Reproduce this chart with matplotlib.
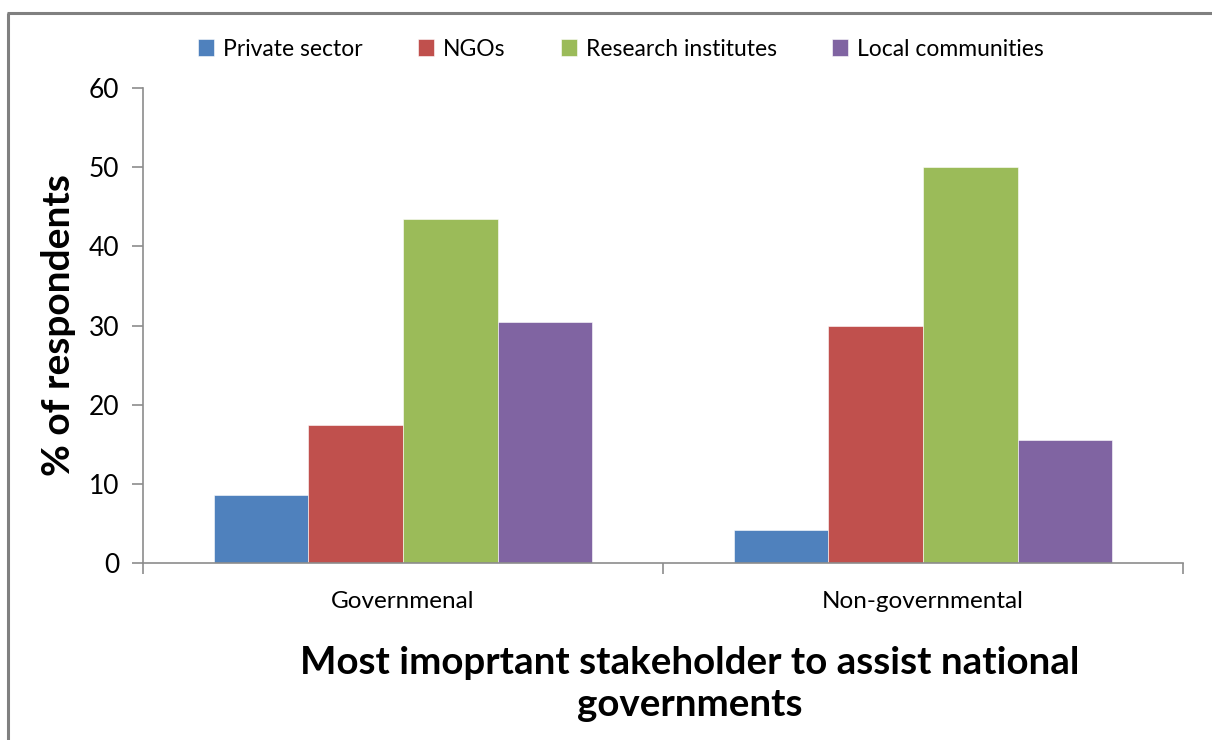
import numpy as np
import matplotlib
matplotlib.use("Agg")
import matplotlib.pyplot as plt
from matplotlib.lines import Line2D

plt.rcParams['font.family'] = ['Lato', 'DejaVu Sans']

# Survey results: % of respondents naming each stakeholder
groups = ["Governmenal", "Non-governmental"]
stakeholders = ["Private sector", "NGOs", "Research institutes", "Local communities"]
private_sector = [8.6, 4.2]
ngos = [17.4, 30.0]
research_institutes = [43.5, 50.0]
local_communities = [30.4, 15.6]
colors = ["#4F81BD", "#C0504D", "#9BBB59", "#8064A2"]

series = [private_sector, ngos, research_institutes, local_communities]

fig = plt.figure(figsize=(12.12, 7.40), dpi=100)
ax = fig.add_axes([143 / 1212, 1 - 563 / 740, (1183 - 143) / 1212, (563 - 88) / 740])

x = np.arange(len(groups))
width = 0.182
for i, (vals, name, c) in enumerate(zip(series, stakeholders, colors)):
    offset = (i - 1.5) * width
    ax.bar(x + offset, vals, width, color=c, label=name,
           edgecolor="white", linewidth=0.4)

ax.set_xlim(-0.5, 1.5)
ax.set_ylim(0, 60)
ax.set_yticks(range(0, 61, 10))
ax.set_xticks(x)
ax.set_xticklabels(groups, fontsize=17.5)
ax.tick_params(axis="x", length=0, pad=20)
ax.set_xticks([-0.5, 0.5, 1.5], minor=True)
ax.tick_params(axis="x", which="minor", length=8, color="#8c8c8c", width=1.2)
ax.tick_params(axis="y", length=8, color="#8c8c8c", width=1.2, labelsize=19, pad=9)

for side in ["top", "right"]:
    ax.spines[side].set_visible(False)
for side in ["left", "bottom"]:
    ax.spines[side].set_color("#8c8c8c")
    ax.spines[side].set_linewidth(1.2)

ax.set_ylabel("% of respondents", fontsize=28, fontweight="bold", labelpad=9)

fig.text(690 / 1212, 1 - 684 / 740,
         "Most imoprtant stakeholder to assist national\ngovernments",
         ha="center", va="center", fontsize=27.7, fontweight="bold",
         linespacing=1.25)

ax.legend(loc="center", bbox_to_anchor=(621 / 1212, 1 - 49 / 740),
          bbox_transform=fig.transFigure, ncol=4, frameon=False,
          fontsize=16.5, handlelength=0.7, handleheight=0.7,
          handletextpad=0.4, columnspacing=2.4)

# outer chart border (left and top edges only)
fig.add_artist(Line2D([8 / 1212, 8 / 1212], [-0.01, 1 - 13 / 740],
                      transform=fig.transFigure, color="#808080",
                      linewidth=2.2, solid_capstyle="butt"))
fig.add_artist(Line2D([7 / 1212, 1.01], [1 - 13 / 740, 1 - 13 / 740],
                      transform=fig.transFigure, color="#808080",
                      linewidth=2.2, solid_capstyle="butt"))

fig.savefig("out.png", dpi=100)
